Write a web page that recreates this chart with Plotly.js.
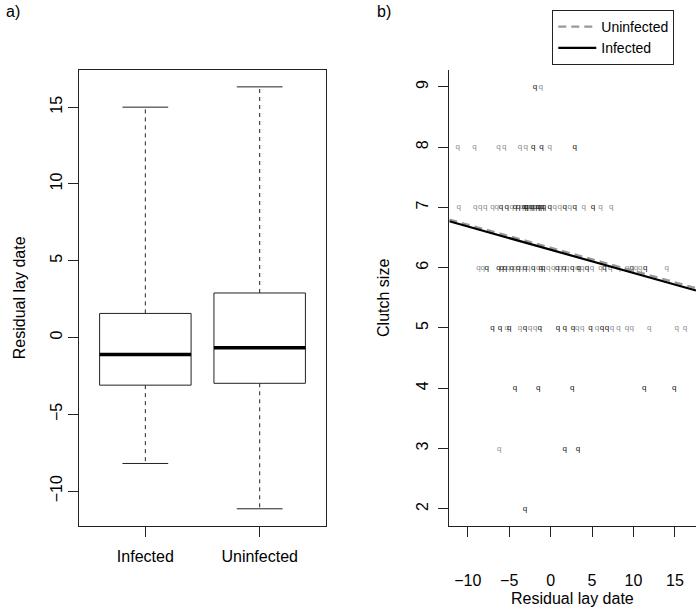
<!DOCTYPE html>
<html>
<head>
<meta charset="utf-8">
<script src="https://cdn.plot.ly/plotly-3.0.1.min.js"></script>
<style>html,body{margin:0;padding:0;background:#fff;}#chart{width:700px;height:609px;}</style>
</head>
<body>
<div id="chart"></div>
<script>
// ---- Panel a: box plot summaries ----
const categories = ['Infected', 'Uninfected'];
const q1 = [-3.10, -2.98];
const medians = [-1.11, -0.67];
const q3 = [1.57, 2.90];
const lowerWhisker = [-8.20, -11.15];
const upperWhisker = [15.00, 16.32];

// ---- Panel b: clutch size vs residual lay date ----
const infectedX = [-1.9,
  -2.1, -1.1, 2.9,
  -6.0, -5.3, -4.3, -3.9, -3.2, -3.0, -2.9, -2.4, -2.2, -1.9, -1.5, -1.3, -1.0, -0.8, -0.1, 1.7, 2.9, 5.1,
  -7.7, -6.3, -5.9, -5.5, -4.7, -3.9, -3.1, -2.1, -1.2, -0.9, 0.8, 1.6, 2.6, 3.4, 4.4, 6.5, 9.8, 11.4,
  -7.0, -6.1, -5.0, -3.1, -1.3, 0.9, 1.7, 2.7, 4.8, 6.2, 6.8,
  -4.3, -1.5, 2.6, 11.3, 14.9,
  1.7, 3.3,
  -3.1];
const infectedY = [9,
  8, 8, 8,
  7, 7, 7, 7, 7, 7, 7, 7, 7, 7, 7, 7, 7, 7, 7, 7, 7, 7,
  6, 6, 6, 6, 6, 6, 6, 6, 6, 6, 6, 6, 6, 6, 6, 6, 6, 6,
  5, 5, 5, 5, 5, 5, 5, 5, 5, 5, 5,
  4, 4, 4, 4, 4,
  3, 3,
  2];
const uninfectedX = [-1.2,
  -11.2, -9.2, -6.3, -5.6, -3.7, -3.0, -0.1,
  -11.1, -9.1, -8.5, -7.9, -7.0, -6.5, -4.7, -3.5, -2.6, -1.6, 0.5, 1.1, 2.3, 4.0, 6.0, 7.3,
  -8.7, -8.2, -5.1, -4.3, -3.5, -2.7, -1.5, -0.3, 0.3, 1.2, 2.0, 3.2, 3.8, 5.0, 6.0, 7.2, 8.2, 9.2, 10.3, 10.8, 14.0,
  -5.3, -3.7, -2.5, -1.9, 3.2, 3.8, 5.6, 7.4, 8.2, 9.2, 9.8, 11.9, 15.2, 16.2,
  -6.2];
const uninfectedY = [9,
  8, 8, 8, 8, 8, 8, 8,
  7, 7, 7, 7, 7, 7, 7, 7, 7, 7, 7, 7, 7, 7, 7, 7,
  6, 6, 6, 6, 6, 6, 6, 6, 6, 6, 6, 6, 6, 6, 6, 6, 6, 6, 6, 6, 6,
  5, 5, 5, 5, 5, 5, 5, 5, 5, 5, 5, 5, 5, 5,
  3];

// fitted regression lines (intercept, slope)
const lineNames = ['Uninfected', 'Infected'];
const lineIntercepts = [6.332, 6.298];
const lineSlopes = [-0.0383, -0.0386];

// ---- styling ----
const FONT = 'Liberation Sans, Arial, Helvetica, sans-serif';
const AXC = '#222';
const xRangeB = [-12.22, 17.54];
const yRangeB = [1.72, 9.28];
const yRangeA = [-12.25, 17.42];
const xRangeA = [0.42, 2.58];
const halfBox = 0.4, halfCap = 0.2;

const traces = [];
categories.forEach((c, i) => {
  const xc = i + 1;
  const base = {type: 'scatter', mode: 'lines', xaxis: 'x', yaxis: 'y', showlegend: false, hoverinfo: 'skip'};
  // whiskers
  traces.push(Object.assign({}, base, {x: [xc, xc], y: [q3[i], upperWhisker[i]], line: {color: AXC, width: 1, dash: '4px,4px'}}));
  traces.push(Object.assign({}, base, {x: [xc, xc], y: [q1[i], lowerWhisker[i]], line: {color: AXC, width: 1, dash: '4px,4px'}}));
  // caps
  traces.push(Object.assign({}, base, {x: [xc - halfCap, xc + halfCap], y: [upperWhisker[i], upperWhisker[i]], line: {color: AXC, width: 1}}));
  traces.push(Object.assign({}, base, {x: [xc - halfCap, xc + halfCap], y: [lowerWhisker[i], lowerWhisker[i]], line: {color: AXC, width: 1}}));
  // box
  traces.push(Object.assign({}, base, {x: [xc - halfBox, xc + halfBox, xc + halfBox, xc - halfBox, xc - halfBox], y: [q1[i], q1[i], q3[i], q3[i], q1[i]], line: {color: AXC, width: 1}, fill: 'toself', fillcolor: 'rgba(255,255,255,1)'}));
  // median
  traces.push(Object.assign({}, base, {x: [xc - halfBox, xc + halfBox], y: [medians[i], medians[i]], line: {color: '#000', width: 3.5}}));
});

// points drawn as 'q' glyphs
traces.push({type: 'scatter', mode: 'text', xaxis: 'x2', yaxis: 'y2', x: uninfectedX, y: uninfectedY,
  text: uninfectedX.map(() => 'q'), textfont: {family: FONT, size: 8, color: '#8a8a8a'}, showlegend: false, hoverinfo: 'x+y'});
traces.push({type: 'scatter', mode: 'text', xaxis: 'x2', yaxis: 'y2', x: infectedX, y: infectedY,
  text: infectedX.map(() => 'q'), textfont: {family: FONT, size: 8, color: '#111'}, showlegend: false, hoverinfo: 'x+y'});

// regression lines
lineNames.forEach((n, i) => {
  traces.push({type: 'scatter', mode: 'lines', xaxis: 'x2', yaxis: 'y2', name: n,
    x: xRangeB, y: xRangeB.map(v => lineIntercepts[i] + lineSlopes[i] * v),
    line: n === 'Uninfected' ? {color: '#999', width: 2.2, dash: '8px,5px'} : {color: '#000', width: 2.2},
    hoverinfo: 'name'});
});

const axBase = {showgrid: false, zeroline: false, showline: true, linecolor: AXC, linewidth: 1,
  ticks: 'outside', ticklen: 10, tickwidth: 1, tickcolor: AXC, tickfont: {family: FONT, size: 16, color: '#000'},
  title: {font: {family: FONT, size: 16, color: '#000'}}};

const layout = {
  width: 700, height: 609,
  margin: {l: 0, r: 0, t: 0, b: 0},
  paper_bgcolor: '#fff', plot_bgcolor: '#fff',
  font: {family: FONT, size: 16, color: '#000'},
  xaxis: Object.assign({}, axBase, {domain: [0.1129, 0.4657], range: xRangeA, tickvals: [1, 2], ticktext: categories, mirror: true, anchor: 'y', ticklabelstandoff: 6, title: {text: ''}}),
  yaxis: Object.assign({}, axBase, {domain: [0.1368, 0.8851], range: yRangeA, tickvals: [-10, -5, 0, 5, 10, 15], ticktext: ['\u221210', '\u22125', '0', '5', '10', '15'], tickangle: -90, mirror: true, anchor: 'x',
    title: {text: 'Residual lay date', standoff: 18, font: {family: FONT, size: 16, color: '#000'}}}),
  xaxis2: Object.assign({}, axBase, {domain: [0.6419, 0.9943], range: xRangeB, tickvals: [-10, -5, 0, 5, 10, 15], ticktext: ['\u221210', '\u22125', '0', '5', '10', '15'], anchor: 'y2', ticklabelstandoff: 30,
    title: {text: ''}}),
  yaxis2: Object.assign({}, axBase, {domain: [0.1368, 0.8851], range: yRangeB, tickvals: [2, 3, 4, 5, 6, 7, 8, 9], tickangle: -90, anchor: 'x2', ticklabelstandoff: 4,
    title: {text: 'Clutch size', standoff: 20, font: {family: FONT, size: 16, color: '#000'}}}),
  showlegend: true,
  legend: {x: 0.789, y: 0.9836, xanchor: 'left', yanchor: 'top', bgcolor: '#fff', bordercolor: AXC, borderwidth: 1,
    font: {family: FONT, size: 14, color: '#000'}, itemwidth: 38, tracegroupgap: 0},
  annotations: [
    {text: 'a)', xref: 'paper', yref: 'paper', x: 0.006, y: 0.999, xanchor: 'left', yanchor: 'top', showarrow: false, font: {family: FONT, size: 16, color: '#000'}},
    {text: 'b)', xref: 'paper', yref: 'paper', x: 0.535, y: 0.999, xanchor: 'left', yanchor: 'top', showarrow: false, font: {family: FONT, size: 16, color: '#000'}},
    {text: 'Residual lay date', xref: 'x2 domain', yref: 'paper', x: 0.5, y: 0.0165, xanchor: 'center', yanchor: 'middle', showarrow: false, font: {family: FONT, size: 16, color: '#000'}}
  ]
};

Plotly.newPlot('chart', traces, layout, {staticPlot: true, displayModeBar: false});
</script>
</body>
</html>
